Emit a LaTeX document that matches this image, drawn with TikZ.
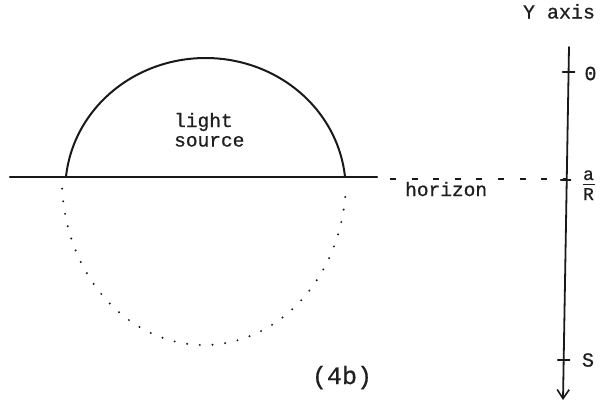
\documentclass[tikz,border=0pt]{standalone}
\usepackage{fontspec}
\newfontfamily\tw{Liberation Mono}[FakeBold=0.7]
\usetikzlibrary{arrows.meta}
\begin{document}
\begin{tikzpicture}[x=1pt,y=-1pt,
  ink/.style={draw=black!90, line cap=round},
  txt/.style={inner sep=0pt, text=black!88, font=\tw\fontsize{#1}{#1}\selectfont},
  txt/.default=20,
  tick/.style={ink, line width=1.4pt},
  dots/.style={draw=black!90, line width=2.2pt, line cap=round, dash pattern=on 0pt off 12.7pt}]
\useasboundingbox (0,0) rectangle (600,402);

% horizon
\coordinate (hl) at (10,177);
\coordinate (hr) at (377,177);
\coordinate (dl) at (390,179);
\coordinate (dr) at (567,179);
\draw[ink, line width=2.4pt] (hl) -- (hr);
\draw[draw=black!90, line width=1.5pt, dash pattern=on 6pt off 15.6pt] (dl) -- (dr);

% light source (upper arc)
\draw[ink, line width=2pt] plot[domain=5.65:174.35, samples=120, smooth]
  ({205.5-140.2*cos(\x)},{190-132*sin(\x)});

% dotted lower half
\draw[dots] plot[domain=3:177, samples=120, smooth]
  ({204-142*cos(\x)},{180+165*sin(\x)});

% texts
\node[txt=19.5, anchor=base west] (light) at (174,127) {light};
\node[txt=19.5, anchor=base west] (source) at (174,146.5) {source};
\node[txt=19.5, anchor=base west] (hor) at (405,196) {horizon};
\node[txt=25, anchor=base] (fig) at (342,384) {(4b)};
\node[txt=20, anchor=base] (yax) at (559,18.5) {Y axis};

% Y axis
\coordinate (ytop) at (569,47);
\coordinate (ybot) at (563,400);
\draw[ink, line width=1.8pt, -{Straight Barb[length=9pt,width=12pt,line width=1.6pt]}] (ytop) -- (ybot);

\coordinate (t0) at (568.6,72);
\coordinate (th) at (566.7,180);
\coordinate (ts) at (563.7,360);
\draw[tick] ([xshift=-6pt]t0) -- ([xshift=6pt]t0);
\draw[tick] ([xshift=-6pt]th) -- ([xshift=4pt]th);
\draw[tick] ([xshift=-6pt]ts) -- ([xshift=6pt]ts);

\node[txt=20] (l0) at (590.5,73.5) {0};
\node[txt=20] (lS) at (588,360) {S};
\node[txt=18, anchor=base] (la) at (588.5,180) {a};
\node[txt=18, anchor=base] (lR) at (588.5,200) {R};
\coordinate (fl) at (583,184.5);
\coordinate (fr) at (595,184.5);
\draw[draw=black!88, line width=1.1pt] (fl) -- (fr);
\end{tikzpicture}
\end{document}
